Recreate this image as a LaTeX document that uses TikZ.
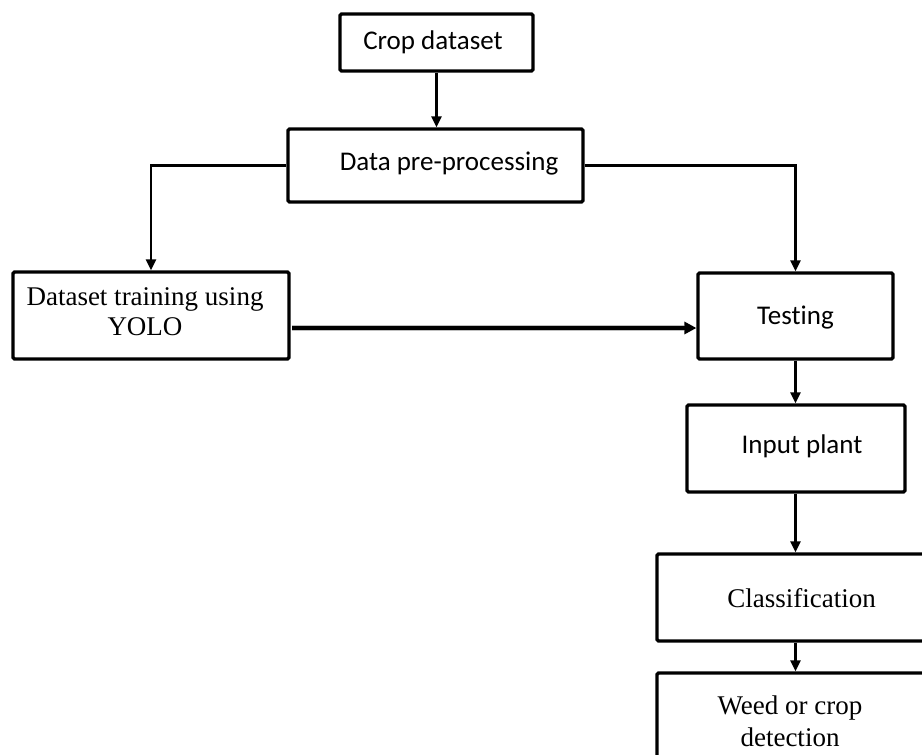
\documentclass[tikz,border=0pt]{standalone}
\usepackage{fontspec}
\newfontfamily\sansf[Ligatures=NoCommon]{Carlito}
\newfontfamily\seriff{Liberation Serif}
\usetikzlibrary{arrows.meta}
\tikzset{
  box/.style={draw=black, line width=3.2pt, rounded corners=1.5pt, rectangle, inner sep=0pt, fill=white},
  txt/.style={inner sep=0pt, align=center, font=\fontsize{27}{31}\selectfont},
  arr/.style={draw=black, line width=2.5pt, -{Triangle[length=11pt,width=10pt]}},
  thickarr/.style={draw=black, line width=3.6pt, -{Triangle[length=12pt,width=12pt]}},
}
\begin{document}
\begin{tikzpicture}[x=1pt,y=-1pt]
\useasboundingbox (0,0) rectangle (922,755);
\clip (0,0) rectangle (922,755);
\fill[white] (0,0) rectangle (922,755);
% boxes
\node[box, minimum width=193pt, minimum height=57pt] (crop) at (436.5,42.5) {};
\node[box, minimum width=295pt, minimum height=73pt] (pre) at (435.5,165.5) {};
\node[box, minimum width=276pt, minimum height=87pt] (train) at (151,315.5) {};
\node[box, minimum width=195pt, minimum height=86pt] (test) at (795.5,316) {};
\node[box, minimum width=218pt, minimum height=87pt] (input) at (796,448.5) {};
\node[box, minimum width=283pt, minimum height=87pt] (class) at (798.5,597.5) {};
\node[box, minimum width=283pt, minimum height=140pt] (weed) at (798.5,743) {};
% texts
\node[txt, font=\sansf\fontsize{27}{31}\selectfont] (tcrop) at (433,42) {Crop dataset};
\node[txt, font=\sansf\fontsize{27}{31}\selectfont] (tpre) at (449,164) {Data pre-processing};
\node[txt, font=\seriff\fontsize{27}{30}\selectfont] (ttrain) at (145,312) {Dataset training using\\YOLO};
\node[txt, font=\sansf\fontsize{27}{31}\selectfont] (ttest) at (795.5,318) {Testing};
\node[txt, font=\sansf\fontsize{27}{31}\selectfont] (tinput) at (802,446) {Input plant};
\node[txt, font=\seriff\fontsize{27}{31}\selectfont] (tclass) at (801.5,598) {Classification};
\node[txt, font=\seriff\fontsize{27}{32}\selectfont] (tweed) at (790,721) {Weed or crop\\detection};
% connectors
\coordinate (hy) at (0,328);
\draw[arr] (crop.south) -- (crop.south |- pre.north);
\draw[arr] (pre.west) -| (train.north);
\draw[arr] (pre.east) -| (test.north);
\draw[gray!50, line width=6pt] ([xshift=1.5pt]train.east |- hy) -- ([xshift=-12pt]test.west |- hy);
\draw[thickarr] ([xshift=1.5pt]train.east |- hy) -- (test.west |- hy);
\draw[arr] (test.south) -- (test.south |- input.north);
\draw[arr] (test.south |- input.south) -- (test.south |- class.north);
\draw[arr] (test.south |- class.south) -- (test.south |- weed.north);
\end{tikzpicture}
\end{document}
